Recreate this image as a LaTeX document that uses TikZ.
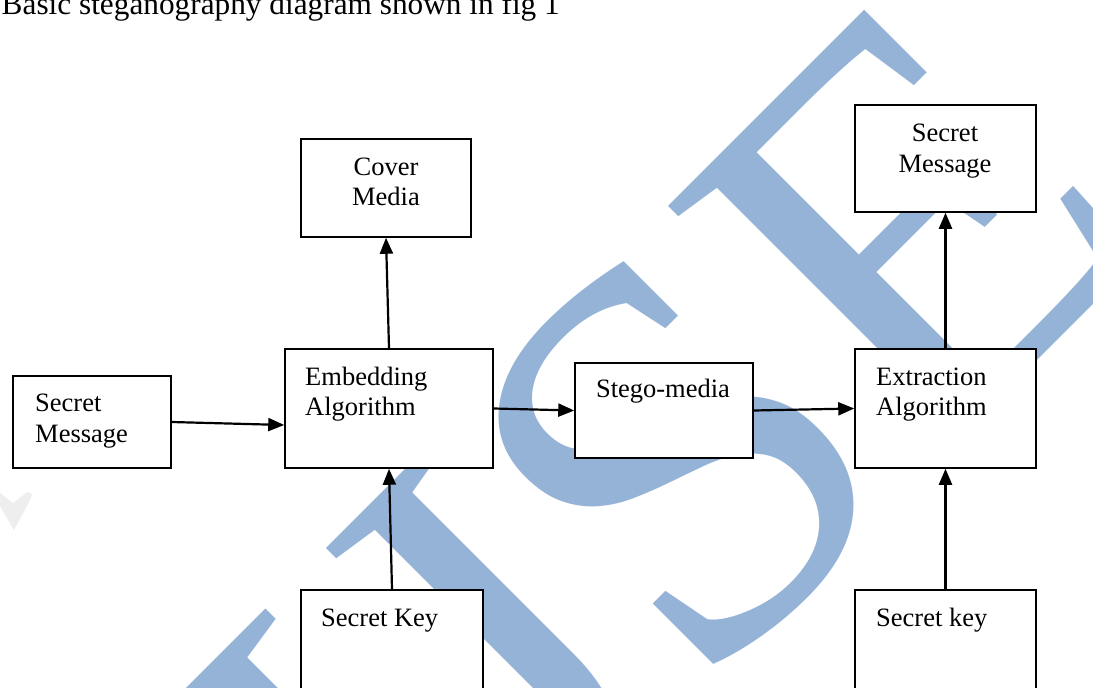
\documentclass[tikz,border=0pt]{standalone}
\usepackage{fontspec}
\setmainfont{Liberation Serif}
\usetikzlibrary{arrows.meta}
\definecolor{wmblue}{RGB}{149,179,215}
\definecolor{wmgrey}{RGB}{238,238,238}
\begin{document}
\begin{tikzpicture}[x=1pt,y=-1pt,
  box/.style={draw=black, line width=1.5pt, fill=white, inner sep=0pt},
  lbl/.style={inner sep=0pt, font=\fontsize{26.5}{31}\selectfont},
  arr/.style={draw=black, line width=2.2pt, -{Triangle[length=16pt,width=13pt]}},
  wmark/.style={inner sep=0pt, text=wmblue, font=\fontsize{565}{565}\selectfont}
]
\useasboundingbox (0,0) rectangle (1093,688);
\clip (0,0) rectangle (1093,688);
\fill[white] (0,0) rectangle (1093,688);
% watermark
\node[wmark, rotate=45, anchor=base west] (watermark) at (408,990) {IJSE};
\fill[wmgrey] (0,493) -- (13,503) -- (26,493) .. controls (30,491) and (33,494) .. (31,498) -- (14,530) -- (0,506) -- cycle;
% title
\node[lbl, font=\fontsize{31.3}{36}\selectfont, anchor=base east] (title) at (560,15) {Basic steganography diagram shown in fig 1};
% boxes
\node[box, minimum width=170pt, minimum height=98pt] (cover) at (386,188) {};
\node[box, minimum width=158pt, minimum height=92pt] (smL) at (92,422) {};
\node[box, minimum width=208pt, minimum height=119pt] (emb) at (389,408.5) {};
\node[box, minimum width=182pt, minimum height=130pt] (sk) at (392,655) {};
\node[box, minimum width=178pt, minimum height=95pt] (stego) at (664,410.5) {};
\node[box, minimum width=181pt, minimum height=119pt] (ext) at (945.5,408.5) {};
\node[box, minimum width=181pt, minimum height=107pt] (smR) at (945.5,158.5) {};
\node[box, minimum width=181pt, minimum height=130pt] (skR) at (945.5,655) {};
% texts
\node[lbl, anchor=base] (cover1) at (386,175) {Cover};
\node[lbl, anchor=base] (cover2) at (386,205) {Media};
\node[lbl, anchor=base west] (smL1) at (35,411) {Secret};
\node[lbl, anchor=base west] (smL2) at (35,442) {Message};
\node[lbl, anchor=base west] (emb1) at (305,385) {Embedding};
\node[lbl, anchor=base west] (emb2) at (305,415) {Algorithm};
\node[lbl, anchor=base west] (sk1) at (321,626) {Secret Key};
\node[lbl, anchor=base] (stego1) at (663,397) {Stego-media};
\node[lbl, anchor=base west] (ext1) at (876,385) {Extraction};
\node[lbl, anchor=base west] (ext2) at (876,415) {Algorithm};
\node[lbl, anchor=base] (smR1) at (945,141) {Secret};
\node[lbl, anchor=base] (smR2) at (945,172) {Message};
\node[lbl, anchor=base west] (skR1) at (876,626) {Secret key};
% arrows
\draw[arr] (smL.east) -- ([yshift=-16.5pt]emb.west);
\draw[arr] (emb.north) -- (cover.south);
\draw[arr] (sk.north) -- (emb.south);
\draw[arr] (emb.east) -- (stego.west);
\draw[arr] (stego.east) -- (ext.west);
\draw[arr] (ext.north) -- (smR.south);
\draw[arr] (skR.north) -- (ext.south);
\end{tikzpicture}
\end{document}
